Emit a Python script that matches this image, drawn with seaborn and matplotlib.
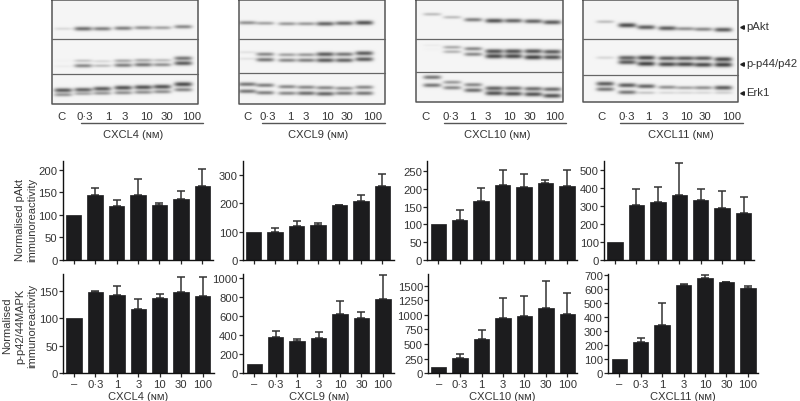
import numpy as np
import pandas as pd
import matplotlib
matplotlib.use("Agg")
import matplotlib.pyplot as plt
import seaborn as sns

doses = ["\u2013", "0\u00b73", "1", "3", "10", "30", "100"]
lane_names = ["C", "0\u00b73", "1", "3", "10", "30", "100"]
chemokines = ["CXCL4", "CXCL9", "CXCL10", "CXCL11"]

# normalised pAkt, bar heights and top of error bar
akt_cxcl4 = [100, 145, 120, 143, 122, 135, 165]
akt_cxcl4_top = [100, 160, 132, 180, 127, 152, 202]
akt_cxcl9 = [100, 100, 120, 124, 193, 207, 263]
akt_cxcl9_top = [100, 114, 139, 132, 194, 229, 303]
akt_cxcl10 = [100, 113, 165, 212, 206, 215, 208]
akt_cxcl10_top = [100, 140, 201, 254, 243, 226, 252]
akt_cxcl11 = [100, 305, 320, 358, 333, 290, 258]
akt_cxcl11_top = [100, 392, 407, 535, 392, 382, 350]

# normalised p-p42/44 MAPK
mapk_cxcl4 = [100, 148, 142, 117, 137, 148, 140]
mapk_cxcl4_top = [100, 150, 158, 134, 144, 174, 175]
mapk_cxcl9 = [100, 385, 340, 375, 620, 585, 785]
mapk_cxcl9_top = [100, 445, 362, 437, 765, 650, 1035]
mapk_cxcl10 = [100, 270, 580, 950, 985, 1125, 1015]
mapk_cxcl10_top = [100, 335, 735, 1290, 1320, 1580, 1375]
mapk_cxcl11 = [100, 225, 345, 628, 675, 648, 603]
mapk_cxcl11_top = [100, 248, 500, 635, 695, 650, 617]

# blot band darkness per lane: pAkt, p44, p42, Erk upper, Erk lower
blot_cxcl4 = [[.15, .75, .65, .65, .55, .45, .6],
              [.02, .25, .15, .4, .4, .3, .7],
              [.05, .6, .3, .65, .7, .55, .85],
              [.85, .8, .85, .9, .9, .9, .95],
              [.5, .4, .5, .55, .55, .55, .6]]
blot_cxcl9 = [[.55, .45, .5, .5, .8, .75, .9],
              [.1, .6, .45, .5, .85, .7, .85],
              [.1, .7, .6, .65, .85, .8, .85],
              [.7, .65, .6, .6, .6, .55, .6],
              [.7, .65, .6, .75, .8, .65, .7]]
blot_cxcl10 = [[.3, .3, .65, .9, .8, .8, .85],
               [.05, .4, .6, .9, .9, .9, .85],
               [.02, .35, .6, .95, .95, 1, .9],
               [.7, .5, .6, .8, .75, .75, .75],
               [.7, .6, .75, .9, .9, .9, .9]]
blot_cxcl11 = [[.3, .95, .85, .85, .55, .6, .85],
               [.1, .8, .95, .85, .85, .85, .95],
               [.08, .85, 1, .95, .95, .95, 1],
               [.85, .85, .8, .55, .45, .55, .85],
               [.7, .7, .25, .15, .15, .15, .2]]

W, H = 800, 402
sns.set_style("ticks")
plt.rcParams["font.family"] = ["Liberation Sans", "DejaVu Sans"]
TXT = "#333333"
BAR = "#1c1c1e"

fig = plt.figure(figsize=(W / 100, H / 100), dpi=100)
page = fig.add_axes([0, 0, 1, 1], zorder=0)
page.set_xlim(0, W)
page.set_ylim(H, 0)
page.axis("off")


def draw_blot(vals, frame, cuts, lanes, rows):
    x0, x1, y1 = frame
    xs = np.arange(x0, x1, 0.5)
    ys = np.arange(0, y1, 0.5)
    gx, gy = np.meshgrid(xs, ys)
    dark = np.zeros_like(gx)
    for row, band_y in zip(vals, rows):
        for i, v in enumerate(row):
            wide = np.exp(-((gx - lanes[i]) / 9.0) ** 4)
            sig = 1.3 + 1.1 * v
            dark += 0.68 * v * wide * np.exp(-((gy - band_y[i]) / sig) ** 2)
    img = 0.96 - np.clip(dark, 0, 0.7)
    page.imshow(img, extent=(x0, x1, y1, 0), cmap="gray", vmin=0, vmax=1,
                aspect="auto", interpolation="bilinear", zorder=1)
    page.plot([x0, x1, x1, x0, x0], [0.5, 0.5, y1, y1, 0.5], color="#555555", lw=1.1, zorder=2)
    for c in cuts:
        page.plot([x0, x1], [c, c], color="#666666", lw=0.9, zorder=2)


draw_blot(blot_cxcl4, (52, 198, 105), (40, 75),
          [63, 83, 102, 123, 143, 162, 183],
          [[29.5, 29.5, 29.5, 29, 28.5, 28.5, 27.5],
           [61.5, 61.5, 62, 61.5, 61, 61, 59],
           [67, 66.5, 66.5, 66, 65.5, 65.5, 64],
           [91, 90.5, 89.5, 88.5, 88, 87.5, 85],
           [95.5, 94.5, 94, 93.5, 93, 92.5, 90.5]])
draw_blot(blot_cxcl9, (239, 385, 105), (40, 74),
          [247, 265, 287, 306, 325, 344, 364],
          [[23.5, 24, 24.5, 24.5, 24.5, 24, 23.5],
           [53, 55, 55.5, 55.5, 55, 55, 54],
           [59.5, 60.5, 61, 61, 61, 61, 60],
           [85, 86, 87.5, 88, 88.5, 89, 88],
           [92, 93.5, 94, 94, 94.5, 94, 94]])
draw_blot(blot_cxcl10, (416, 563, 103), (39.5, 72.5),
          [432, 452, 473, 494, 513, 533, 552],
          [[15, 18, 20.5, 21.5, 21.5, 22, 23],
           [46, 48, 49.5, 52, 52, 52, 52.5],
           [50, 52.5, 55, 57, 57, 58, 58],
           [78, 83, 85.5, 89, 89, 89.5, 90],
           [86, 88.5, 91, 94, 94.5, 95, 96.5]])
draw_blot(blot_cxcl11, (583, 738, 103), (39.5, 76),
          [605, 627, 646, 667, 685, 703, 723],
          [[22.5, 26, 28, 29, 29.5, 30, 30.5],
           [58, 58.5, 58.5, 59, 59, 59, 60],
           [59, 63, 64.5, 65, 65, 65.5, 65.5],
           [84.5, 86, 87, 88, 88.5, 88.5, 88.5],
           [90, 93, 93.5, 93.5, 93.5, 93.5, 93.5]])

lane_label_x = [[62, 85, 108, 125, 146, 167, 192],
                [247, 268, 290, 306, 327, 347, 373],
                [425, 451, 472, 488, 509, 530, 555],
                [601, 627, 648, 665, 686, 705, 732]]
rules = [(81, 203), (262, 385), (444, 566), (620, 743)]
name_x = [133, 318, 497, 681]
for xs, rule, nx, name in zip(lane_label_x, rules, name_x, chemokines):
    for x, lab in zip(xs, lane_names):
        page.text(x, 117, lab, ha="center", va="center", fontsize=8.2, color=TXT)
    page.plot(rule, [123.5, 123.5], color="#555555", lw=1)
    page.text(nx, 135.5, name + " (\u0274\u1d0d)", ha="center", va="center", fontsize=8, color=TXT)

for y, lab in zip([27, 64, 93], ["pAkt", "p-p44/p42", "Erk1"]):
    page.plot([741.5], [y + 1], marker="<", ms=2.6, color="#222222", ls="none")
    page.text(746, y, lab, ha="left", va="center", fontsize=8.2, color=TXT)

page.text(26.5, 220, "Normalised pAkt\nimmunoreactivity", rotation=90, ha="center", va="center",
          fontsize=8, color=TXT, linespacing=1.3, multialignment="center")
page.text(20, 326, "Normalised\np-p42/44MAPK\nimmunoreactivity", rotation=90, ha="center", va="center",
          fontsize=8, color=TXT, linespacing=1.3, multialignment="center")


def bar_panel(vals, tops, box, ymax, ticks, first, step, xname=None):
    left, right, top, base = box
    ax = fig.add_axes([left / W, 1 - base / H, (right - left) / W, (base - top) / H], zorder=3)
    ax.patch.set_alpha(0)
    df = pd.DataFrame({"dose": doses, "value": vals})
    sns.barplot(data=df, x="dose", y="value", color=BAR, saturation=1, width=0.72,
                errorbar=None, ax=ax, zorder=2, edgecolor=BAR, linewidth=0.5)
    up = np.array(tops) - np.array(vals)
    # the control lanes have no spread, so no whisker there
    has_err = up > 0
    ax.errorbar(np.arange(7)[has_err], np.array(vals)[has_err], yerr=[np.zeros(has_err.sum()), up[has_err]],
                fmt="none", ecolor="#333333", elinewidth=1.1, capsize=3.2, capthick=1.1, zorder=1)
    ax.set_xlim((left - first) / step, (right - first) / step)
    ax.set_ylim(0, ymax)
    ax.set_yticks(ticks)
    ax.set_xlabel("")
    ax.set_ylabel("")
    if xname is None:
        ax.set_xticklabels([])
    else:
        ax.set_xlabel(xname + " (\u0274\u1d0d)", fontsize=8, color=TXT, labelpad=1.5)
    ax.tick_params(axis="both", length=2.6, width=0.9, labelsize=8.1, pad=1.2, labelcolor=TXT)
    sns.despine(ax=ax)
    for s in ["left", "bottom"]:
        ax.spines[s].set_linewidth(1)
        ax.spines[s].set_color("#111111")
    return ax


bar_panel(akt_cxcl4, akt_cxcl4_top, (62.7, 213, 161.7, 261), 220, [0, 50, 100, 150, 200], 73.7, 21.43)
bar_panel(akt_cxcl9, akt_cxcl9_top, (243.3, 393.5, 161.7, 261), 351, [0, 100, 200, 300], 253.7, 21.43)
bar_panel(akt_cxcl10, akt_cxcl10_top, (427.3, 576.7, 161.7, 261), 279, [0, 50, 100, 150, 200, 250], 438.3, 21.43)
bar_panel(akt_cxcl11, akt_cxcl11_top, (604, 754.3, 161.7, 261), 550, [0, 100, 200, 300, 400, 500], 615, 21.43)

bar_panel(mapk_cxcl4, mapk_cxcl4_top, (63.3, 213.5, 275, 374.3), 180, [0, 50, 100, 150], 74, 21.43, "CXCL4")
bar_panel(mapk_cxcl9, mapk_cxcl9_top, (243.3, 394, 275, 374.3), 1045, [0, 200, 400, 600, 800, 1000], 254.3, 21.43, "CXCL9")
bar_panel(mapk_cxcl10, mapk_cxcl10_top, (428.3, 577, 275, 374.3), 1699, [0, 250, 500, 750, 1000, 1250, 1500], 438.7, 21.43, "CXCL10")
bar_panel(mapk_cxcl11, mapk_cxcl11_top, (608.3, 758, 275, 374.3), 705, [0, 100, 200, 300, 400, 500, 600, 700], 619.3, 21.43, "CXCL11")

fig.savefig("out.png", dpi=100)
